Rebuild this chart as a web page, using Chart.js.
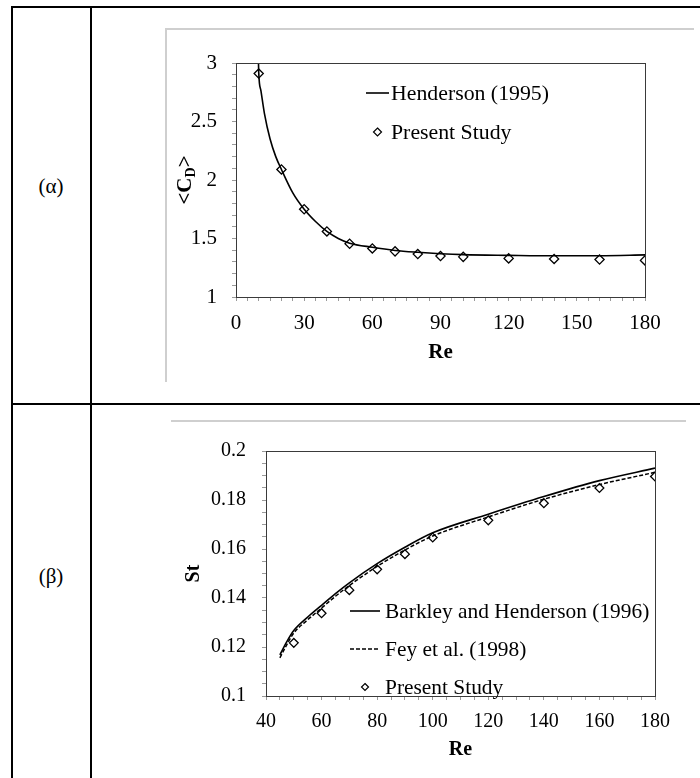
<!DOCTYPE html>
<html>
<head>
<meta charset="utf-8">
<script src="https://cdn.jsdelivr.net/npm/chart.js@4.4.0/dist/chart.umd.min.js"></script>
<style>
  html, body { margin: 0; padding: 0; background: #fff; }
  body { width: 700px; height: 778px; position: relative; overflow: hidden; font-family: "Liberation Serif", serif; }
  .rule { position: absolute; background: #000; }
  .frame { position: absolute; background: #cfcfcf; }
  .lbl { position: absolute; width: 80px; text-align: center; font-size: 21px; line-height: 21px; color: #000; }
  canvas { position: absolute; }
</style>
</head>
<body>
<div class="rule" style="left:11px;top:6px;width:689px;height:2px"></div>
<div class="rule" style="left:11px;top:6px;width:2px;height:772px"></div>
<div class="rule" style="left:90px;top:6px;width:2px;height:772px"></div>
<div class="rule" style="left:11px;top:403px;width:689px;height:2px"></div>
<div class="frame" style="left:165px;top:28px;width:529px;height:2px"></div>
<div class="frame" style="left:165px;top:28px;width:2px;height:354px"></div>
<div class="frame" style="left:171px;top:420px;width:515px;height:2px"></div>
<div class="lbl" style="left:11px;top:176px">(α)</div>
<div class="lbl" style="left:11px;top:566px">(β)</div>
<canvas id="cdChart" width="527" height="351" style="left:167px;top:31px"></canvas>
<canvas id="stChart" width="521" height="355" style="left:173px;top:423px"></canvas>
<script>
// (α) mean drag coefficient vs Re
const reCd = [10, 20, 30, 40, 50, 60, 70, 80, 90, 100, 120, 140, 160, 180];
const cdPresent = [2.91, 2.09, 1.75, 1.56, 1.455, 1.415, 1.39, 1.367, 1.35, 1.343, 1.33, 1.325, 1.32, 1.313];
const reHenderson = [9.8, 10, 11, 12.5, 15, 17.5, 20, 25, 30, 35, 40, 45, 50, 60, 70, 80, 90, 100, 120, 140, 160, 180];
const cdHenderson = [3.1, 2.92, 2.76, 2.57, 2.35, 2.2, 2.09, 1.89, 1.75, 1.645, 1.56, 1.5, 1.46, 1.425, 1.398, 1.382, 1.37, 1.362, 1.356, 1.352, 1.353, 1.36];

// (β) Strouhal number vs Re
const reSt = [50, 60, 70, 80, 90, 100, 120, 140, 160, 180];
const stPresent = [0.1217, 0.1338, 0.1432, 0.1517, 0.1579, 0.1647, 0.1717, 0.1787, 0.1849, 0.1896];
const reCurves = [45, 47.5, 50, 55, 60, 65, 70, 80, 90, 100, 120, 140, 160, 180];
const stBarkley = [0.1168, 0.1222, 0.1267, 0.1322, 0.137, 0.1418, 0.1462, 0.154, 0.1607, 0.1666, 0.1742, 0.1814, 0.1879, 0.193];
const stFey = [0.1156, 0.121, 0.1257, 0.1311, 0.1359, 0.1407, 0.1451, 0.1529, 0.1596, 0.1653, 0.1731, 0.1803, 0.1863, 0.1913];

// axis ranges / labelled tick steps
const cdAxis = { xMin: 0, xMax: 180, xMinor: 5, xLabel: 30, yMin: 1, yMax: 3, yMinor: 0.1, yLabel: 0.5 };
const stAxis = { xMin: 40, xMax: 180, xMinor: 5, xLabel: 20, yMin: 0.1, yMax: 0.2, yMinor: 0.005, yLabel: 0.02 };

const FONT = '"Liberation Serif", "Times New Roman", serif';
Chart.defaults.font.family = FONT;
Chart.defaults.font.size = 20;
Chart.defaults.color = '#000';

const pts = (xs, ys) => xs.map((x, i) => ({ x: x, y: ys[i] }));
const onStep = (v, step) => Math.abs(v / step - Math.round(v / step)) < 1e-6;

function diamond(ctx, x, y, r) {
  ctx.beginPath();
  ctx.moveTo(x, y - r);
  ctx.lineTo(x + r, y);
  ctx.lineTo(x, y + r);
  ctx.lineTo(x - r, y);
  ctx.closePath();
  ctx.stroke();
}

// box round the plot area
const plotFrame = {
  id: 'plotFrame',
  afterDraw(chart) {
    const { ctx, chartArea: a } = chart;
    ctx.save();
    ctx.strokeStyle = '#3a3a3a';
    ctx.lineWidth = 1;
    ctx.strokeRect(Math.round(a.left) + 0.5, Math.round(a.top) + 0.5, Math.round(a.width), Math.round(a.height));
    ctx.restore();
  }
};

// legend drawn inside the plot, Excel style
const insideLegend = {
  id: 'insideLegend',
  afterDraw(chart, args, o) {
    const { ctx, chartArea: a } = chart;
    ctx.save();
    ctx.font = o.size + 'px ' + FONT;
    ctx.textBaseline = 'middle';
    ctx.fillStyle = '#000';
    ctx.strokeStyle = '#000';
    chart.data.datasets.forEach((ds, i) => {
      const y = a.top + o.y0 + i * o.dy;
      const x = a.left + o.x0;
      if (ds.pointRadius === 0) {
        ctx.lineWidth = ds.borderWidth;
        ctx.setLineDash(ds.borderDash || []);
        ctx.beginPath();
        ctx.moveTo(x, y);
        ctx.lineTo(x + o.lineW, y);
        ctx.stroke();
        ctx.setLineDash([]);
      } else {
        ctx.lineWidth = 1.2;
        diamond(ctx, x + o.lineW / 2, y, o.markR);
      }
      ctx.fillText(ds.label, x + o.lineW + o.gap, y + 1);
    });
    ctx.restore();
  }
};

// <C_D> axis title with subscript
const cdTitle = {
  id: 'cdTitle',
  afterDraw(chart) {
    const { ctx, chartArea: a } = chart;
    const big = 'bold 21px ' + FONT, small = 'bold 14px ' + FONT;
    ctx.save();
    ctx.translate(19, (a.top + a.bottom) / 2);
    ctx.rotate(-Math.PI / 2);
    ctx.fillStyle = '#000';
    ctx.textBaseline = 'middle';
    ctx.font = big;
    const w1 = ctx.measureText('<C').width, w3 = ctx.measureText('>').width;
    ctx.font = small;
    const w2 = ctx.measureText('D').width;
    let x = -(w1 + w2 + w3) / 2;
    ctx.font = big; ctx.fillText('<C', x, 0); x += w1;
    ctx.font = small; ctx.fillText('D', x, 5); x += w2;
    ctx.font = big; ctx.fillText('>', x, 0);
    ctx.restore();
  }
};

function axes(ax, o) {
  const grid = { drawOnChartArea: false, tickLength: 4, color: '#9a9a9a' };
  const font = { size: o.size };
  return {
    x: {
      type: 'linear', min: ax.xMin, max: ax.xMax,
      ticks: { stepSize: ax.xMinor, autoSkip: false, maxRotation: 0, padding: o.xPad, font: font,
               callback: v => onStep(v, ax.xLabel) ? String(v) : '' },
      grid: grid, border: { display: false },
      title: { display: true, text: 'Re', font: { weight: 'bold', size: o.size }, padding: { top: 0, bottom: o.titleBottom } },
      afterFit: s => { s.height = o.xH; }
    },
    y: {
      min: ax.yMin, max: ax.yMax,
      ticks: { stepSize: ax.yMinor, autoSkip: false, padding: o.yPad, font: font,
               callback: v => onStep(v, ax.yLabel) ? String(parseFloat(v.toFixed(3))) : '' },
      grid: grid, border: { display: false },
      title: o.yTitle ? { display: true, text: o.yTitle, font: { weight: 'bold', size: o.size }, padding: { top: o.yTitlePad, bottom: 0 } } : { display: false },
      afterFit: s => { s.width = o.yW; }
    }
  };
}

new Chart(document.getElementById('cdChart'), {
  type: 'line',
  data: {
    datasets: [
      { label: 'Henderson (1995)', data: pts(reHenderson, cdHenderson), borderColor: '#000', borderWidth: 1.6,
        pointRadius: 0, cubicInterpolationMode: 'monotone', fill: false },
      { label: 'Present Study', data: pts(reCd, cdPresent), showLine: false, pointStyle: 'rectRot',
        pointRadius: 4.6, pointBorderWidth: 1.3, borderColor: '#000', pointBackgroundColor: 'rgba(0,0,0,0)' }
    ]
  },
  options: {
    responsive: false, animation: false,
    layout: { padding: { top: 32, right: 49, left: 0, bottom: 0 } },
    plugins: {
      legend: { display: false }, tooltip: { enabled: false },
      insideLegend: { x0: 130, y0: 30, dy: 39, lineW: 23, gap: 2, markR: 4, size: 21.8 }
    },
    scales: axes(cdAxis, { size: 21, xPad: 10, xH: 85, titleBottom: 17, yPad: 15, yW: 69 })
  },
  plugins: [plotFrame, insideLegend, cdTitle]
});

new Chart(document.getElementById('stChart'), {
  type: 'line',
  data: {
    datasets: [
      { label: 'Barkley and Henderson (1996)', data: pts(reCurves, stBarkley), borderColor: '#000', borderWidth: 1.6,
        pointRadius: 0, cubicInterpolationMode: 'monotone', fill: false },
      { label: 'Fey et al. (1998)', data: pts(reCurves, stFey), borderColor: '#000', borderWidth: 1.5, borderDash: [4, 2],
        pointRadius: 0, cubicInterpolationMode: 'monotone', fill: false },
      { label: 'Present Study', data: pts(reSt, stPresent), showLine: false, pointStyle: 'rectRot',
        pointRadius: 4.4, pointBorderWidth: 1.3, borderColor: '#000', pointBackgroundColor: 'rgba(0,0,0,0)' }
    ]
  },
  options: {
    responsive: false, animation: false,
    layout: { padding: { top: 25, right: 39, left: 0, bottom: 0 } },
    plugins: {
      legend: { display: false }, tooltip: { enabled: false },
      insideLegend: { x0: 84, y0: 160, dy: 38, lineW: 30, gap: 5, markR: 3.5, size: 21.4 }
    },
    scales: axes(stAxis, { size: 20, xPad: 10, xH: 82, titleBottom: 16, yPad: 16, yW: 93, yTitle: 'St', yTitlePad: 9 })
  },
  plugins: [plotFrame, insideLegend]
});
</script>
</body>
</html>
